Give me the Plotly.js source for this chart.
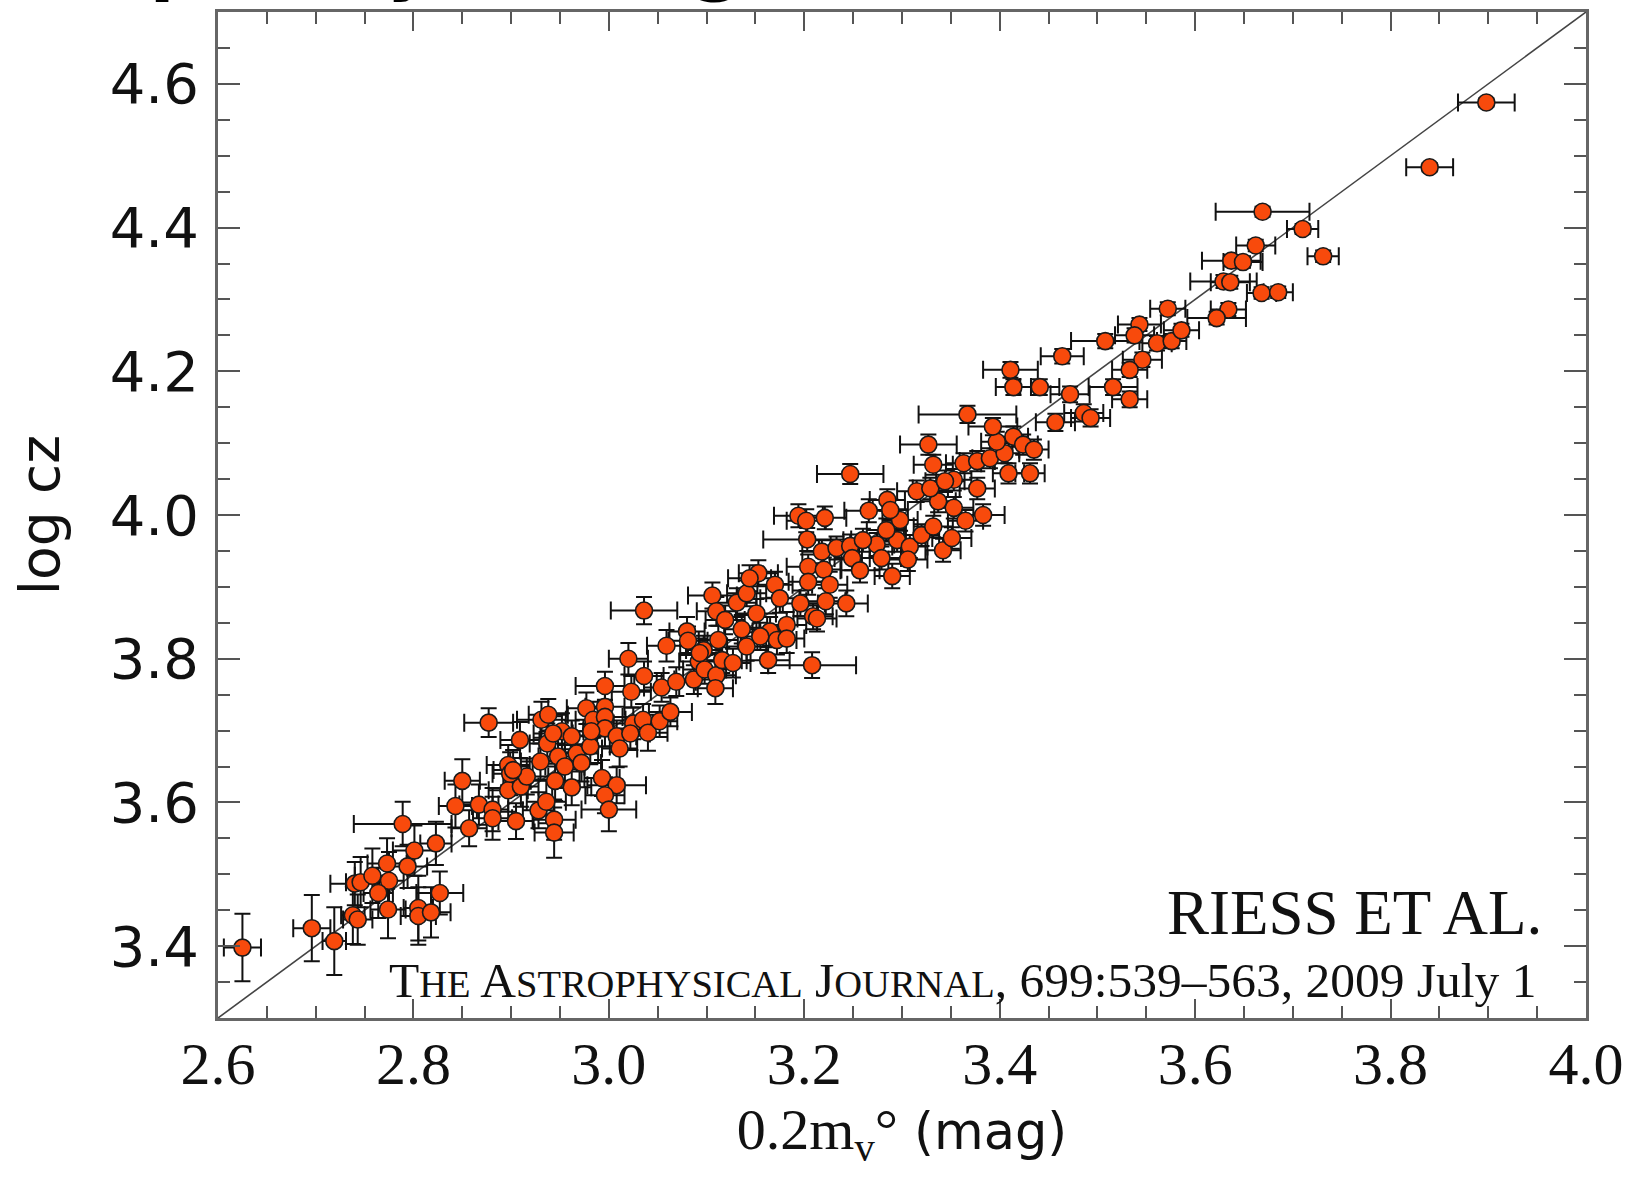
<!DOCTYPE html>
<html>
<head>
<meta charset="utf-8">
<script src="https://cdn.plot.ly/plotly-3.0.1.min.js"></script>
<style>html,body{margin:0;padding:0;background:#fff;}#chart{width:1634px;height:1183px;}</style>
</head>
<body>
<div id="chart"></div>
<script>
// 0.2 m_V^0 (mag)
const mag = [2.625,2.696,2.719,2.738,2.743,2.740,2.746,2.758,2.773,2.775,2.764,2.774,2.794,2.801,2.789,2.823,2.827,2.805,2.805,2.818,
2.857,2.843,2.850,2.867,2.881,2.881,2.905,2.944,2.944,2.928,2.936,2.945,2.962,2.897,2.910,2.916,3.036,2.877,2.909,2.897,
2.899,2.930,2.931,2.938,2.937,2.952,2.948,2.962,2.967,2.955,2.977,2.984,2.981,2.996,2.996,2.996,3.008,3.011,2.996,3.023,
3.036,3.020,2.993,3.008,2.996,3.000,3.025,3.035,3.040,3.052,3.063,3.054,3.069,3.059,3.080,3.081,3.092,3.097,3.087,3.098,
3.110,3.109,3.116,3.127,3.112,3.136,3.141,3.163,3.208,3.106,3.131,3.141,3.110,3.119,3.170,3.175,3.196,3.151,3.165,3.182,
3.172,3.182,3.209,3.327,3.247,3.194,3.202,3.221,3.266,3.285,3.203,3.218,3.233,3.247,3.249,3.257,3.204,3.220,3.204,3.226,
3.222,3.243,3.213,3.153,3.144,3.274,3.279,3.290,3.295,3.308,3.306,3.320,3.332,3.342,3.351,3.365,3.383,3.377,3.353,3.337,
3.315,3.329,3.332,3.363,3.377,3.390,3.405,3.409,3.431,3.397,3.414,3.424,3.435,3.353,3.344,3.298,3.284,3.260,3.731,3.637,
3.649,3.629,3.636,3.668,3.685,3.572,3.634,3.622,3.543,3.538,3.561,3.576,3.586,3.508,3.464,3.546,3.533,3.411,3.414,3.441,
3.472,3.516,3.533,3.367,3.457,3.486,3.493,3.393,3.898,3.840,3.669,3.710,3.662,3.288,3.155,3.093,2.943,2.972,2.982,3.022,2.902];
// log cz
const logcz = [3.398,3.425,3.407,3.443,3.437,3.487,3.489,3.498,3.515,3.491,3.474,3.451,3.511,3.533,3.570,3.543,3.474,3.453,3.442,3.447,
3.564,3.595,3.630,3.597,3.590,3.578,3.574,3.576,3.558,3.589,3.601,3.630,3.621,3.617,3.622,3.636,3.867,3.711,3.687,3.652,
3.640,3.657,3.715,3.722,3.682,3.699,3.664,3.692,3.668,3.650,3.731,3.715,3.678,3.733,3.719,3.703,3.692,3.675,3.762,3.754,
3.776,3.800,3.634,3.624,3.610,3.590,3.710,3.715,3.697,3.713,3.726,3.760,3.768,3.818,3.838,3.825,3.796,3.812,3.771,3.785,
3.777,3.759,3.798,3.794,3.826,3.841,3.817,3.798,3.791,3.888,3.878,3.891,3.866,3.854,3.903,3.884,3.877,3.863,3.838,3.847,
3.826,3.828,3.859,4.098,4.057,3.999,3.992,3.996,4.006,4.021,3.966,3.949,3.954,3.957,3.940,3.923,3.928,3.924,3.907,3.903,
3.880,3.877,3.856,3.919,3.912,3.959,3.940,3.915,3.965,3.956,3.938,3.972,3.984,3.951,3.968,3.992,4.000,4.037,4.010,4.019,
4.033,4.037,4.070,4.072,4.075,4.079,4.086,4.058,4.058,4.102,4.109,4.098,4.091,4.049,4.047,3.993,3.979,3.965,4.360,4.354,
4.352,4.325,4.324,4.309,4.310,4.287,4.286,4.274,4.265,4.250,4.239,4.242,4.257,4.242,4.221,4.216,4.202,4.202,4.178,4.178,
4.168,4.178,4.161,4.140,4.129,4.142,4.135,4.123,4.574,4.484,4.422,4.398,4.375,4.007,3.831,3.808,3.696,3.655,3.699,3.696,3.645];
// error in 0.2 m_V^0
const magErr = [.019,.019,.012,.012,.015,.025,.015,.018,.020,.015,.015,.018,.020,.022,.050,.016,.024,.015,.018,.020,
.018,.017,.018,.020,.016,.020,.018,.022,.020,.016,.020,.025,.020,.020,.018,.022,.034,.025,.020,.022,
.018,.020,.025,.020,.018,.022,.020,.018,.022,.020,.020,.018,.020,.020,.018,.022,.020,.018,.030,.020,
.020,.020,.018,.030,.020,.028,.020,.018,.020,.018,.022,.018,.020,.020,.018,.020,.020,.018,.020,.022,
.020,.018,.020,.018,.020,.018,.020,.022,.045,.025,.020,.020,.020,.020,.018,.020,.018,.020,.018,.020,
.020,.018,.020,.029,.034,.025,.020,.022,.025,.018,.045,.020,.018,.020,.018,.020,.022,.018,.020,.018,
.020,.022,.020,.020,.022,.018,.020,.018,.020,.018,.020,.018,.020,.018,.020,.018,.022,.018,.020,.018,
.020,.018,.020,.018,.018,.018,.015,.016,.015,.016,.015,.015,.015,.018,.020,.018,.020,.020,.016,.030,
.020,.034,.020,.015,.015,.018,.018,.030,.022,.020,.015,.015,.018,.035,.022,.020,.018,.028,.018,.020,
.020,.025,.018,.050,.020,.020,.020,.025,.029,.024,.048,.016,.020,.018,.020,.020,.020,.020,.020,.020,.020];
// error in log cz
const czErr = [.047,.046,.047,.040,.035,.030,.035,.038,.035,.040,.035,.040,.030,.035,.031,.030,.030,.045,.040,.035,
.025,.030,.030,.028,.030,.030,.025,.028,.035,.025,.030,.028,.025,.030,.028,.025,.019,.020,.025,.028,
.030,.025,.025,.022,.028,.025,.025,.022,.025,.030,.022,.025,.025,.022,.024,.025,.022,.025,.020,.022,
.020,.022,.025,.025,.025,.030,.022,.022,.025,.022,.020,.020,.020,.022,.020,.020,.020,.020,.020,.020,
.020,.022,.018,.020,.020,.020,.020,.018,.018,.018,.020,.018,.020,.020,.018,.020,.018,.020,.020,.018,
.020,.020,.018,.014,.014,.016,.016,.016,.016,.015,.016,.016,.016,.016,.017,.017,.017,.017,.018,.018,
.018,.018,.018,.018,.018,.016,.016,.017,.016,.016,.016,.015,.015,.016,.015,.015,.015,.015,.015,.015,
.015,.015,.014,.014,.014,.014,.014,.014,.014,.014,.014,.014,.014,.015,.015,.015,.016,.016,.008,.008,
.008,.009,.009,.008,.008,.009,.009,.009,.009,.010,.010,.010,.009,.010,.010,.010,.010,.011,.011,.011,
.011,.011,.011,.012,.012,.012,.012,.012,.006,.006,.007,.007,.008,.015,.019,.020,.024,.026,.024,.023,.028];
// reference line log cz = 0.2 m_V^0 + 0.7 across the frame
const lineMag = [2.6, 4.0];
const lineLogcz = [3.3, 4.7];
const xTickVals = [2.6,2.8,3.0,3.2,3.4,3.6,3.8,4.0];
const xTickText = ['2.6','2.8','3.0','3.2','3.4','3.6','3.8','4.0'];
const yTickVals = [3.4,3.6,3.8,4.0,4.2,4.4,4.6];
const yTickText = ['3.4','3.6','3.8','4.0','4.2','4.4','4.6'];

const traces = [
  {x: lineMag, y: lineLogcz, mode: 'lines', type: 'scatter', hoverinfo: 'skip',
   line: {color: '#444', width: 1.6}},
  {x: mag, y: logcz, mode: 'markers', type: 'scatter',
   marker: {size: 17, color: '#f84a0c', line: {color: '#1a1a1a', width: 1.6}},
   error_x: {type: 'data', array: magErr, visible: true, color: '#111', thickness: 2, width: 9},
   error_y: {type: 'data', array: czErr, visible: true, color: '#111', thickness: 2, width: 8}}
];

const axisCommon = {
  ticks: 'inside', tickwidth: 2, tickcolor: '#555',
  showline: true, linecolor: '#666', linewidth: 3, mirror: 'ticks',
  showgrid: false, zeroline: false
};

const layout = {
  width: 1634, height: 1183,
  margin: {l: 218, r: 48, t: 12, b: 165},
  paper_bgcolor: '#fff', plot_bgcolor: '#fff',
  showlegend: false,
  title: {text: 'A plot by the log scale', font: {family: 'DejaVu Sans', size: 72, color: '#000', weight: 'bold'},
          xref: 'container', x: 69/1634, xanchor: 'left', yref: 'container', y: 1, yanchor: 'bottom', pad: {b: 13}},
  xaxis: Object.assign({}, axisCommon, {
    range: [2.6, 4.0], tickmode: 'array', tickvals: xTickVals, ticktext: xTickText, ticklen: 19,
    minor: {dtick: 0.05, tick0: 2.6, ticks: 'inside', ticklen: 12, tickwidth: 2, tickcolor: '#555', showgrid: false},
    tickfont: {family: 'Liberation Serif', size: 60, color: '#111'}, ticklabelstandoff: -9,
    title: {text: '<span style="font-family:Liberation Serif;font-size:58px">0.2m<sub>v</sub>°</span> (mag)',
            font: {family: 'DejaVu Sans', size: 51, color: '#111'}, standoff: 4}
  }),
  yaxis: Object.assign({}, axisCommon, {
    range: [3.3, 4.7], tickmode: 'array', tickvals: yTickVals, ticktext: yTickText, ticklen: 22,
    minor: {dtick: 0.05, tick0: 3.3, ticks: 'inside', ticklen: 12, tickwidth: 2, tickcolor: '#555', showgrid: false},
    tickfont: {family: 'DejaVu Sans', size: 56, color: '#111'}, ticklabelstandoff: 5,
    title: {text: 'log cz', font: {family: 'DejaVu Sans', size: 55, color: '#111'}, standoff: 33}
  }),
  annotations: [
    {text: 'RIESS ET AL.', xref: 'paper', yref: 'paper', x: 0.9693, y: 0.1044, xanchor: 'right', yanchor: 'middle',
     showarrow: false, font: {family: 'Liberation Serif', size: 63, color: '#111'}},
    {text: 'T<span style="font-size:38.5px">HE</span> A<span style="font-size:38.5px">STROPHYSICAL</span> J<span style="font-size:38.5px">OURNAL</span>, 699:539–563, 2009 July 1',
     xref: 'paper', yref: 'paper', x: 0.9656, y: 0.0368, xanchor: 'right', yanchor: 'middle',
     showarrow: false, font: {family: 'Liberation Serif', size: 49.5, color: '#111'}}
  ]
};

Plotly.newPlot('chart', traces, layout, {displayModeBar: false, staticPlot: true});
</script>
</body>
</html>
